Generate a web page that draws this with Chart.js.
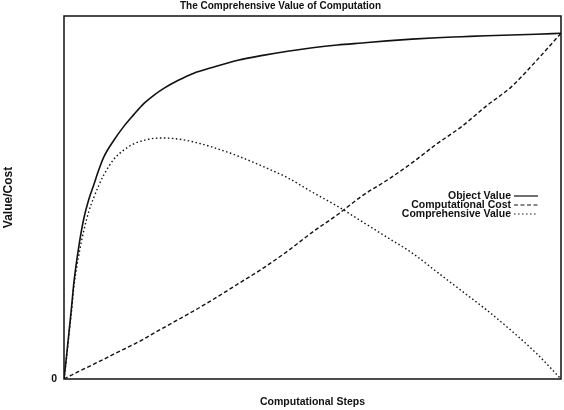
<!DOCTYPE html>
<html>
<head>
<meta charset="utf-8">
<script src="https://cdn.jsdelivr.net/npm/chart.js@4"></script>
<style>
  html, body { margin: 0; padding: 0; background: #fff; }
  #wrap { width: 564px; height: 410px; }
</style>
</head>
<body>
<div id="wrap"><canvas id="chart" width="564" height="410"></canvas></div>
<script>
// computational steps (percent of run) and the three curves
const steps = [0, 0.5, 1, 1.5, 2, 3, 4, 5, 6, 7, 8, 10, 12, 14, 16, 18, 20, 23, 26, 30, 35, 40, 45, 50, 55, 60, 65, 70, 75, 80, 85, 90, 95, 100];
const objectValue = [0, 6.5, 13.5, 20.5, 28, 38.5, 46.5, 52, 56.2, 60.5, 64.2, 69, 73, 76.4, 79.6, 82, 84, 86.4, 88.4, 90.2, 92.2, 93.6, 94.8, 95.8, 96.6, 97.2, 97.8, 98.3, 98.7, 99, 99.3, 99.5, 99.7, 100];
const compCost = [0, 0.4, 0.75, 1.1, 1.5, 2.2, 2.9, 3.6, 4.3, 5, 5.7, 7.2, 8.6, 10, 11.5, 13.2, 14.8, 17.2, 19.6, 23, 27.5, 32, 37, 42.5, 47.5, 53, 57.5, 62.5, 68, 73, 79, 84.5, 92, 100];
const comprehensive = [0, 6, 12.8, 19.5, 26.8, 36, 43, 48.5, 52.5, 56, 59, 63.5, 66.2, 68, 69, 69.6, 69.7, 69.4, 68.6, 67, 64.5, 61.5, 58.2, 54, 50, 45.5, 41, 36.5, 31, 25.5, 20, 14, 7.5, 0];
const yTicks = [0];

const ink = "#111";
const fontFamily = "'Liberation Sans', Arial, Helvetica, sans-serif";

function pts(values) {
  return steps.map((s, i) => ({ x: s, y: values[i] }));
}

// box round the plot area
const framePlugin = {
  id: "frame",
  afterDatasetsDraw(chart) {
    const { ctx, chartArea: a } = chart;
    ctx.save();
    ctx.strokeStyle = ink;
    ctx.lineWidth = 1.5;
    ctx.strokeRect(a.left, a.top, a.right - a.left, a.bottom - a.top);
    ctx.restore();
  }
};

// legend sitting inside the plot, right side, text right aligned
const insideLegend = {
  id: "insideLegend",
  afterDraw(chart) {
    const { ctx, chartArea: a } = chart;
    const textRight = a.right - 50;
    const lineStart = a.right - 47;
    const lineEnd = a.right - 23;
    let y = a.top + 180;
    ctx.save();
    ctx.font = "bold 10.5px " + fontFamily;
    ctx.textAlign = "right";
    ctx.textBaseline = "middle";
    chart.data.datasets.forEach((ds) => {
      ctx.fillStyle = ink;
      ctx.fillText(ds.label, textRight, y);
      ctx.beginPath();
      ctx.setLineDash(ds.borderDash || []);
      ctx.lineWidth = 1.2;
      ctx.strokeStyle = ink;
      ctx.moveTo(lineStart, y);
      ctx.lineTo(lineEnd, y);
      ctx.stroke();
      y += 9;
    });
    ctx.restore();
  }
};

new Chart(document.getElementById("chart"), {
  type: "line",
  data: {
    datasets: [
      { label: "Object Value", data: pts(objectValue), borderColor: ink, borderWidth: 1.6, borderDash: [] },
      { label: "Computational Cost", data: pts(compCost), borderColor: ink, borderWidth: 1.4, borderDash: [4, 2.5] },
      { label: "Comprehensive Value", data: pts(comprehensive), borderColor: ink, borderWidth: 1.4, borderDash: [1.5, 2.5] }
    ]
  },
  options: {
    responsive: false,
    animation: false,
    events: [],
    layout: { padding: { left: 0, right: 3, top: 0, bottom: 0 } },
    elements: {
      point: { radius: 0 },
      line: { tension: 0.4, cubicInterpolationMode: "monotone", fill: false }
    },
    plugins: {
      legend: { display: false },
      tooltip: { enabled: false },
      title: {
        display: true,
        text: "The Comprehensive Value of Computation",
        color: ink,
        font: { family: fontFamily, size: 10, weight: "bold" },
        padding: { top: 0, bottom: 4 }
      }
    },
    scales: {
      x: {
        type: "linear",
        min: 0,
        max: 100,
        grid: { display: false },
        border: { display: false },
        ticks: { display: false },
        title: {
          display: true,
          text: "Computational Steps",
          color: ink,
          font: { family: fontFamily, size: 10.5, weight: "bold" },
          padding: { top: 15, bottom: 2 }
        },
        afterFit(scale) { scale.height = 31; }
      },
      y: {
        min: 0,
        max: 105,
        grid: { display: false, drawTicks: false },
        border: { display: false },
        afterBuildTicks(scale) { scale.ticks = yTicks.map((v) => ({ value: v })); },
        ticks: {
          color: ink,
          padding: 7,
          font: { family: fontFamily, size: 10.5, weight: "bold" }
        },
        title: {
          display: true,
          text: "Value/Cost",
          color: ink,
          font: { family: fontFamily, size: 12, weight: "bold" },
          padding: { top: 1, bottom: 0 }
        },
        afterFit(scale) { scale.width = 64; }
      }
    }
  },
  plugins: [framePlugin, insideLegend]
});
</script>
</body>
</html>
